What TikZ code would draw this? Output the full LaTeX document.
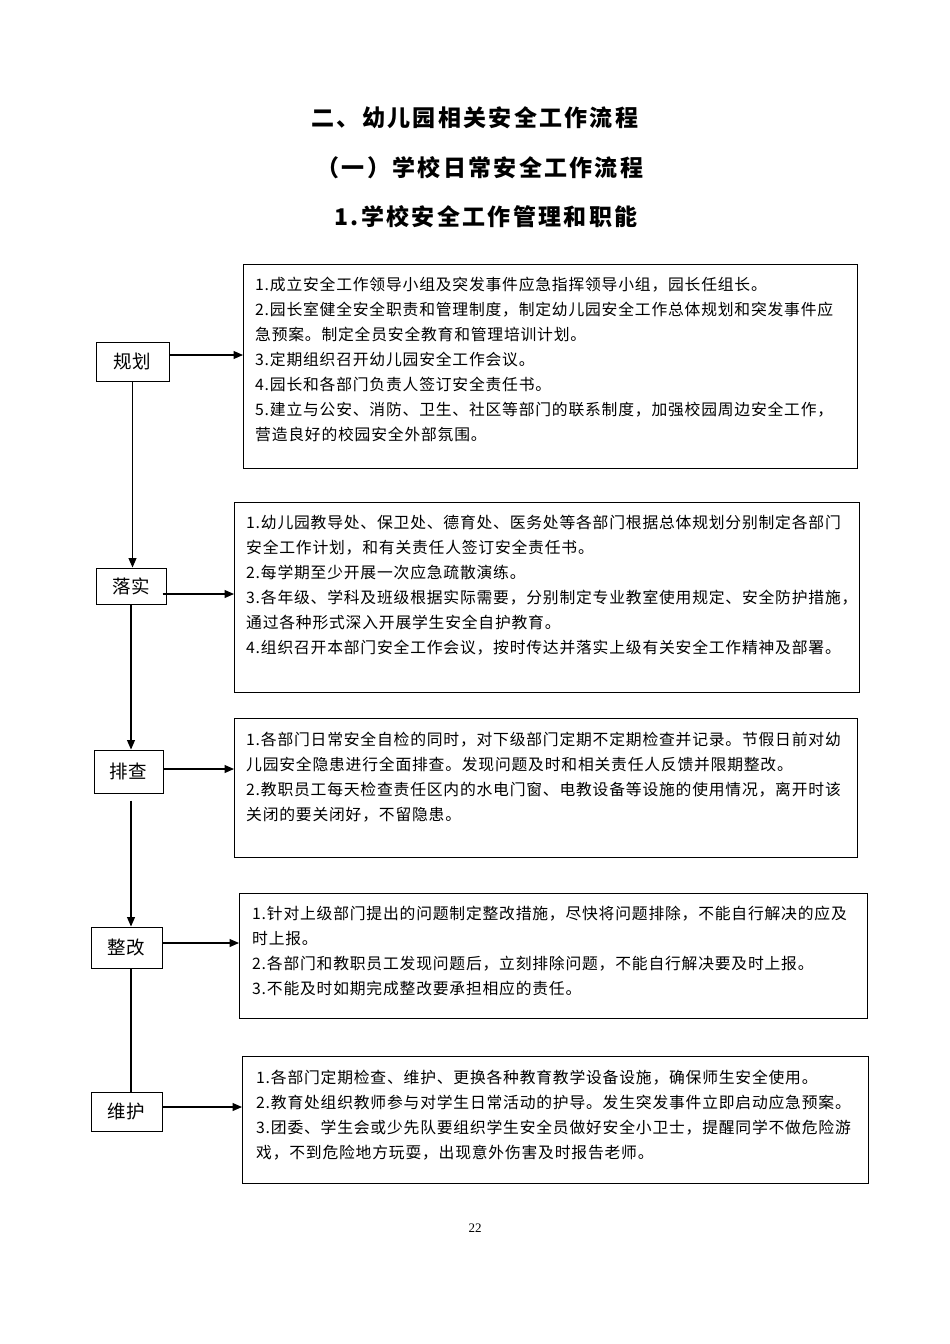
\documentclass[tikz,border=0pt]{standalone}
\usepackage{fontspec}
\setmainfont{Noto Sans CJK SC}
\newfontfamily\bodyfont[LetterSpace=5]{Noto Sans CJK SC}
\newfontfamily\titlefont[LetterSpace=10]{Noto Sans CJK SC}
\newfontfamily\numfont{Liberation Serif}
\usetikzlibrary{arrows.meta}
\begin{document}
\begin{tikzpicture}[x=1pt,y=-1pt,
  stage/.style={draw, line width=1pt, inner sep=0pt, font=\bodyfont\fontsize{18.5}{20}\selectfont},
  panel/.style={draw, line width=1pt, inner sep=0pt, anchor=north west},
  body/.style={anchor=north west, inner sep=0pt, align=left, font=\bodyfont\fontsize{15.8}{25}\selectfont},
  ttl/.style={inner sep=0pt, font=\titlefont\bfseries\fontsize{23}{26}\selectfont},
  arr/.style={line width=1.1pt, -{Triangle[length=9.5pt,width=8pt]}},
  ln/.style={line width=1.1pt}]
\useasboundingbox (0,0) rectangle (950,1344);
\fill[white] (0,0) rectangle (950,1344);

% titles
\node[ttl] (h1) at (475,118) {二、幼儿园相关安全工作流程};
\node[ttl] (h2) at (480,168) {（一）学校日常安全工作流程};
\node[ttl] (h3) at (486,217) {1.学校安全工作管理和职能};

% stage boxes
\node[stage, minimum width=73pt, minimum height=39pt] (gh) at (132.5,361.5) {规划};
\node[stage, minimum width=70pt, minimum height=36pt] (ls) at (131,586) {落实};
\node[stage, minimum width=69pt, minimum height=43pt] (pc) at (128.5,771.5) {排查};
\node[stage, minimum width=71pt, minimum height=41pt] (zg) at (126.5,947.5) {整改};
\node[stage, minimum width=71pt, minimum height=39pt] (wh) at (126.5,1111.5) {维护};

% panels
\node[panel, minimum width=614pt, minimum height=204pt] (b1) at (243,264) {};
\node[panel, minimum width=625pt, minimum height=190pt] (b2) at (234,502) {};
\node[panel, minimum width=623pt, minimum height=139pt] (b3) at (234,718) {};
\node[panel, minimum width=628pt, minimum height=125pt] (b4) at (239,893) {};
\node[panel, minimum width=626pt, minimum height=127pt] (b5) at (242,1056) {};

% panel texts
\node[body] (t1) at (255,277) {1.成立安全工作领导小组及突发事件应急指挥领导小组，园长任组长。\\
2.园长室健全安全职责和管理制度，制定幼儿园安全工作总体规划和突发事件应\\
急预案。制定全员安全教育和管理培训计划。\\
3.定期组织召开幼儿园安全工作会议。\\
4.园长和各部门负责人签订安全责任书。\\
5.建立与公安、消防、卫生、社区等部门的联系制度，加强校园周边安全工作，\\
营造良好的校园安全外部氛围。};

\node[body] (t2) at (246,515) {1.幼儿园教导处、保卫处、德育处、医务处等各部门根据总体规划分别制定各部门\\
安全工作计划，和有关责任人签订安全责任书。\\
2.每学期至少开展一次应急疏散演练。\\
3.各年级、学科及班级根据实际需要，分别制定专业教室使用规定、安全防护措施，\\
通过各种形式深入开展学生安全自护教育。\\
4.组织召开本部门安全工作会议，按时传达并落实上级有关安全工作精神及部署。};

\node[body] (t3) at (246,732) {1.各部门日常安全自检的同时，对下级部门定期不定期检查并记录。节假日前对幼\\
儿园安全隐患进行全面排查。发现问题及时和相关责任人反馈并限期整改。\\
2.教职员工每天检查责任区内的水电门窗、电教设备等设施的使用情况，离开时该\\
关闭的要关闭好，不留隐患。};

\node[body] (t4) at (252,906) {1.针对上级部门提出的问题制定整改措施，尽快将问题排除，不能自行解决的应及\\
时上报。\\
2.各部门和教职员工发现问题后，立刻排除问题，不能自行解决要及时上报。\\
3.不能及时如期完成整改要承担相应的责任。};

\node[body] (t5) at (256,1070) {1.各部门定期检查、维护、更换各种教育教学设备设施，确保师生安全使用。\\
2.教育处组织教师参与对学生日常活动的护导。发生突发事件立即启动应急预案。\\
3.团委、学生会或少先队要组织学生安全员做好安全小卫士，提醒同学不做危险游\\
戏，不到危险地方玩耍，出现意外伤害及时报告老师。};

% horizontal arrows
\coordinate (a1) at ([yshift=6.5pt]gh.east);
\draw[arr] (a1) -- (a1 -| b1.west);
\coordinate (a2) at ([yshift=-8pt,xshift=-4pt]ls.east);
\draw[arr] (a2) -- (a2 -| b2.west);
\coordinate (a3) at ([yshift=2.5pt]pc.east);
\draw[arr] (a3) -- (a3 -| b3.west);
\coordinate (a4) at ([yshift=4.5pt]zg.east);
\draw[arr] (a4) -- (a4 -| b4.west);
\coordinate (a5) at ([yshift=4.5pt]wh.east);
\draw[arr] (a5) -- (a5 -| b5.west);

% vertical connectors
\draw[arr] (gh.south) -- (gh.south |- ls.north);
\draw[arr] (ls.south) -- (ls.south |- pc.north);
\coordinate (v3a) at ([yshift=-7pt]pc.south);
\coordinate (v3) at (v3a -| ls.south);
\draw[arr] (v3) -- (v3 |- zg.north);
\draw[ln] (zg.south -| ls.south) -- (ls.south |- wh.north);

% page number
\node[font=\numfont\fontsize{13}{14}\selectfont, inner sep=0pt] (pg) at (475,1228) {22};
\end{tikzpicture}
\end{document}
